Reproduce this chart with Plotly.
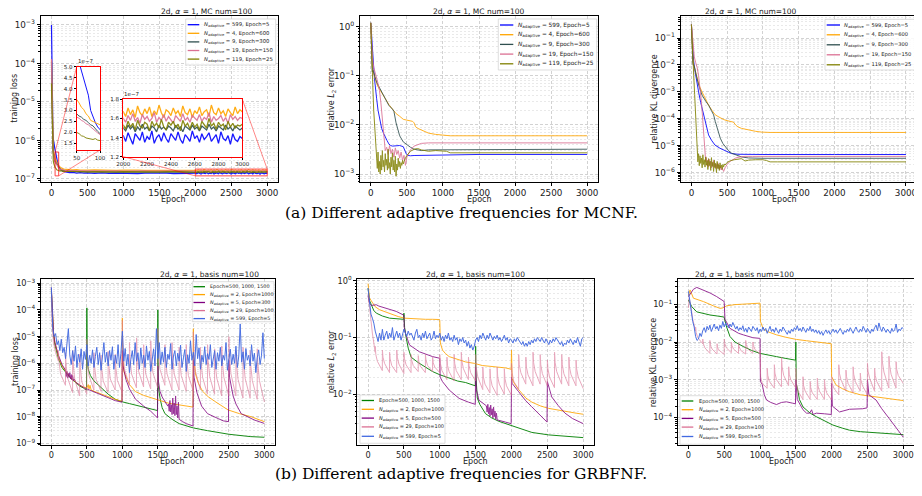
import math
import plotly.graph_objects as go

W, H = 922, 496          # browser window
OFF = 8                  # default page body margin
FW, FH = W - OFF, H - OFF  # figure size so that it exactly fills the window

# ======================= DATA =======================
EPOCH_TICKS = [0, 500, 1000, 1500, 2000, 2500, 3000]

# ---------- (a) MCNF : training loss ----------
mc_loss_epoch = [0, 4, 8, 12, 16, 20, 25, 30, 35, 40, 45, 50, 55, 60, 65, 70, 75, 80, 85, 90, 95, 100,
                 110, 120, 135, 150, 175, 200, 250, 300, 350, 400, 450, 500,
                 600, 700, 800, 900, 1000, 1100, 1200, 1300, 1400, 1500, 1600, 1700, 1800, 1900] + \
                list(range(2000, 3001, 20))

mc_loss_blue = [1.0e-3, 1.5e-4, 3.0e-5, 8.0e-6, 3.0e-6, 1.6e-6, 1.1e-6, 9.0e-7, 8.0e-7, 7.0e-7, 6.2e-7, 5.6e-7,
                5.2e-7, 4.8e-7, 4.45e-7, 4.1e-7, 3.7e-7, 3.0e-7, 2.7e-7, 2.45e-7, 2.25e-7, 2.1e-7,
                1.9e-7, 1.8e-7, 1.7e-7, 1.62e-7, 1.55e-7, 1.5e-7, 1.45e-7, 1.48e-7, 1.42e-7, 1.46e-7, 1.41e-7, 1.44e-7,
                1.40e-7, 1.43e-7, 1.39e-7, 1.42e-7, 1.40e-7, 1.44e-7, 1.38e-7, 1.41e-7, 1.43e-7, 1.39e-7, 1.42e-7, 1.37e-7, 1.41e-7, 1.40e-7,
                1.42e-7, 1.36e-7, 1.45e-7, 1.39e-7, 1.33e-7, 1.44e-7, 1.40e-7, 1.37e-7, 1.46e-7, 1.35e-7,
                1.41e-7, 1.38e-7, 1.47e-7, 1.34e-7, 1.40e-7, 1.43e-7, 1.36e-7, 1.45e-7, 1.39e-7, 1.35e-7,
                1.44e-7, 1.41e-7, 1.37e-7, 1.46e-7, 1.38e-7, 1.34e-7, 1.43e-7, 1.40e-7, 1.36e-7, 1.47e-7,
                1.39e-7, 1.42e-7, 1.35e-7, 1.44e-7, 1.38e-7, 1.41e-7, 1.45e-7, 1.36e-7, 1.40e-7, 1.43e-7,
                1.34e-7, 1.46e-7, 1.39e-7, 1.37e-7, 1.42e-7, 1.33e-7, 1.44e-7, 1.38e-7, 1.36e-7, 1.41e-7,
                1.39e-7]
mc_loss_orange = [1.2e-4, 3.0e-5, 8.0e-6, 3.0e-6, 1.5e-6, 9.0e-7, 6.0e-7, 5.0e-7, 4.4e-7, 4.0e-7, 3.7e-7, 3.5e-7,
                  3.35e-7, 3.15e-7, 3.05e-7, 2.85e-7, 2.75e-7, 2.55e-7, 2.5e-7, 2.42e-7, 2.3e-7, 2.22e-7,
                  2.1e-7, 2.0e-7, 1.92e-7, 1.85e-7, 1.8e-7, 1.76e-7, 1.74e-7, 1.72e-7, 1.75e-7, 1.7e-7, 1.73e-7, 1.69e-7,
                  1.72e-7, 1.68e-7, 1.71e-7, 1.67e-7, 1.70e-7, 1.66e-7, 1.69e-7, 1.67e-7, 1.70e-7, 1.66e-7, 1.68e-7, 1.65e-7, 1.69e-7, 1.66e-7,
                  1.67e-7, 1.62e-7, 1.71e-7, 1.64e-7, 1.69e-7, 1.61e-7, 1.73e-7, 1.66e-7, 1.63e-7, 1.70e-7,
                  1.65e-7, 1.72e-7, 1.62e-7, 1.68e-7, 1.64e-7, 1.74e-7, 1.66e-7, 1.61e-7, 1.69e-7, 1.67e-7,
                  1.63e-7, 1.71e-7, 1.65e-7, 1.68e-7, 1.62e-7, 1.73e-7, 1.66e-7, 1.64e-7, 1.70e-7, 1.61e-7,
                  1.68e-7, 1.65e-7, 1.72e-7, 1.63e-7, 1.67e-7, 1.69e-7, 1.62e-7, 1.74e-7, 1.66e-7, 1.64e-7,
                  1.71e-7, 1.65e-7, 1.68e-7, 1.62e-7, 1.70e-7, 1.66e-7, 1.63e-7, 1.72e-7, 1.65e-7, 1.69e-7,
                  1.67e-7]
mc_loss_slate = [1.1e-4, 2.0e-5, 5.0e-6, 2.0e-6, 1.0e-6, 6.5e-7, 4.8e-7, 4.0e-7, 3.5e-7, 3.2e-7, 3.0e-7, 2.85e-7,
                 2.75e-7, 2.7e-7, 2.6e-7, 2.55e-7, 2.45e-7, 2.35e-7, 2.3e-7, 2.15e-7, 2.05e-7, 1.95e-7,
                 1.85e-7, 1.8e-7, 1.72e-7, 1.68e-7, 1.63e-7, 1.6e-7, 1.57e-7, 1.55e-7, 1.56e-7, 1.53e-7, 1.55e-7, 1.52e-7,
                 1.53e-7, 1.51e-7, 1.52e-7, 1.50e-7, 1.52e-7, 1.49e-7, 1.51e-7, 1.50e-7, 1.52e-7, 1.49e-7, 1.51e-7, 1.50e-7, 1.49e-7, 1.51e-7,
                 1.50e-7, 1.47e-7, 1.53e-7, 1.49e-7, 1.52e-7, 1.46e-7, 1.51e-7, 1.48e-7, 1.54e-7, 1.49e-7,
                 1.51e-7, 1.47e-7, 1.52e-7, 1.50e-7, 1.46e-7, 1.53e-7, 1.49e-7, 1.51e-7, 1.48e-7, 1.52e-7,
                 1.50e-7, 1.47e-7, 1.53e-7, 1.49e-7, 1.51e-7, 1.46e-7, 1.52e-7, 1.50e-7, 1.48e-7, 1.53e-7,
                 1.49e-7, 1.51e-7, 1.47e-7, 1.52e-7, 1.50e-7, 1.48e-7, 1.54e-7, 1.49e-7, 1.51e-7, 1.47e-7,
                 1.52e-7, 1.50e-7, 1.48e-7, 1.53e-7, 1.49e-7, 1.51e-7, 1.47e-7, 1.52e-7, 1.50e-7, 1.48e-7,
                 1.50e-7]
mc_loss_pink = [1.3e-4, 2.5e-5, 6.0e-6, 2.2e-6, 1.1e-6, 7.0e-7, 5.0e-7, 4.1e-7, 3.6e-7, 3.2e-7, 2.9e-7, 2.7e-7,
                2.65e-7, 2.55e-7, 2.5e-7, 2.4e-7, 2.35e-7, 2.25e-7, 2.15e-7, 2.05e-7, 1.98e-7, 1.9e-7,
                1.84e-7, 1.8e-7, 1.75e-7, 1.72e-7, 1.68e-7, 1.66e-7, 1.64e-7, 1.65e-7, 1.62e-7, 1.63e-7, 1.61e-7, 1.62e-7,
                1.60e-7, 1.62e-7, 1.59e-7, 1.61e-7, 1.60e-7, 1.62e-7, 1.59e-7, 1.61e-7, 1.60e-7, 1.62e-7, 1.59e-7, 1.60e-7, 1.61e-7, 1.60e-7,
                1.60e-7, 1.56e-7, 1.63e-7, 1.58e-7, 1.65e-7, 1.57e-7, 1.61e-7, 1.55e-7, 1.64e-7, 1.59e-7,
                1.62e-7, 1.57e-7, 1.60e-7, 1.66e-7, 1.56e-7, 1.61e-7, 1.58e-7, 1.64e-7, 1.57e-7, 1.62e-7,
                1.59e-7, 1.55e-7, 1.63e-7, 1.60e-7, 1.57e-7, 1.65e-7, 1.58e-7, 1.61e-7, 1.56e-7, 1.63e-7,
                1.60e-7, 1.58e-7, 1.64e-7, 1.57e-7, 1.61e-7, 1.59e-7, 1.66e-7, 1.56e-7, 1.62e-7, 1.58e-7,
                1.60e-7, 1.63e-7, 1.57e-7, 1.61e-7, 1.55e-7, 1.64e-7, 1.59e-7, 1.62e-7, 1.58e-7, 1.61e-7,
                1.60e-7]
mc_loss_olive = [3.0e-5, 1.0e-5, 3.0e-6, 1.2e-6, 6.0e-7, 4.0e-7, 3.0e-7, 2.6e-7, 2.3e-7, 2.15e-7, 2.05e-7, 2.0e-7,
                 1.95e-7, 1.85e-7, 1.82e-7, 1.75e-7, 1.72e-7, 1.7e-7, 1.68e-7, 1.72e-7, 1.65e-7, 1.63e-7,
                 1.62e-7, 1.6e-7, 1.65e-7, 1.58e-7, 1.6e-7, 1.56e-7, 1.58e-7, 1.55e-7, 1.57e-7, 1.54e-7, 1.56e-7, 1.53e-7,
                 1.55e-7, 1.53e-7, 1.56e-7, 1.52e-7, 1.54e-7, 1.53e-7, 1.55e-7, 1.52e-7, 1.54e-7, 1.53e-7, 1.55e-7, 1.52e-7, 1.54e-7, 1.53e-7,
                 1.53e-7, 1.49e-7, 1.57e-7, 1.51e-7, 1.55e-7, 1.48e-7, 1.58e-7, 1.52e-7, 1.50e-7, 1.56e-7,
                 1.54e-7, 1.47e-7, 1.57e-7, 1.52e-7, 1.55e-7, 1.50e-7, 1.59e-7, 1.51e-7, 1.48e-7, 1.56e-7,
                 1.53e-7, 1.57e-7, 1.50e-7, 1.54e-7, 1.47e-7, 1.58e-7, 1.52e-7, 1.55e-7, 1.49e-7, 1.56e-7,
                 1.51e-7, 1.54e-7, 1.48e-7, 1.57e-7, 1.53e-7, 1.50e-7, 1.60e-7, 1.52e-7, 1.55e-7, 1.49e-7,
                 1.56e-7, 1.52e-7, 1.54e-7, 1.48e-7, 1.57e-7, 1.51e-7, 1.55e-7, 1.50e-7, 1.53e-7, 1.52e-7,
                 1.54e-7]

# inset windows (data ranges shown by the two zoom boxes)
inset_a_epochs = [50, 100]
inset_a_loss = [1.2e-7, 5.0e-7]
inset_a_ticks = [1.5e-7, 2.0e-7, 2.5e-7, 3.0e-7, 3.5e-7, 4.0e-7, 4.5e-7, 5.0e-7]
inset_a_ticktext = ["1.5", "2.0", "2.5", "3.0", "3.5", "4.0", "4.5", "5.0"]
inset_b_epochs = [2000, 3000]
inset_b_loss = [1.2e-7, 1.8e-7]
inset_b_xticks = [2000, 2200, 2400, 2600, 2800, 3000]
inset_b_ticks = [1.2e-7, 1.4e-7, 1.6e-7, 1.8e-7]
inset_b_ticktext = ["1.2", "1.4", "1.6", "1.8"]

# ---------- (a) MCNF : relative L2 error ----------
mc_l2_blue_epoch = [0, 10, 20, 30, 40, 50, 60, 80, 100, 125, 150, 175, 200, 225, 250, 275, 300, 350, 400, 450,
                    470, 490, 510, 550, 600, 800, 1000, 1500, 2000, 2500, 3000]
mc_l2_blue = [1.2, 0.6, 0.35, 0.25, 0.15, 0.09, 0.06, 0.035, 0.02, 0.012, 0.0085, 0.0068, 0.0055, 0.0048, 0.0041,
              0.0038, 0.0037, 0.0037, 0.0038, 0.0036, 0.0030, 0.0026, 0.0024, 0.00235, 0.00238, 0.0024, 0.0025,
              0.0025, 0.0025, 0.0025, 0.0025]
mc_l2_orange_epoch = [0, 10, 20, 40, 60, 80, 100, 150, 200, 250, 300, 350, 400, 450, 500, 550, 580, 600, 620, 650,
                      700, 750, 800, 900, 1000, 1100, 1500, 2000, 2500, 3000]
mc_l2_orange = [1.2, 0.25, 0.15, 0.11, 0.085, 0.07, 0.06, 0.045, 0.033, 0.026, 0.021, 0.017, 0.015, 0.013, 0.0125,
                0.012, 0.0118, 0.011, 0.0092, 0.0085, 0.0078, 0.0072, 0.0068, 0.0064, 0.0061, 0.006, 0.006, 0.006,
                0.006, 0.006]
mc_l2_slate_epoch = [0, 10, 20, 30, 50, 80, 100, 150, 200, 250, 300, 320, 350, 400, 450, 500, 550, 600, 700, 800,
                     1000, 1500, 2000, 2500, 3000]
mc_l2_slate = [1.2, 0.3, 0.12, 0.13, 0.1, 0.075, 0.065, 0.047, 0.034, 0.025, 0.021, 0.019, 0.011, 0.006, 0.0045,
               0.0039, 0.0035, 0.0032, 0.003, 0.0031, 0.0031, 0.0032, 0.0032, 0.0032, 0.0032]
mc_l2_pink_epoch = [0, 10, 20, 40, 60, 80, 100, 120, 140, 160, 180, 200, 220, 240, 260, 280, 300, 320, 340, 360,
                    380, 400, 420, 440, 460, 480, 500, 550, 600, 650, 700, 800, 1000, 1500, 2000, 2500, 3000]
mc_l2_pink = [1.2, 0.5, 0.25, 0.15, 0.11, 0.09, 0.07, 0.05, 0.028, 0.012, 0.005, 0.003, 0.0035, 0.0025, 0.0038,
              0.0026, 0.0032, 0.0022, 0.0034, 0.0025, 0.003, 0.0021, 0.0028, 0.0019, 0.0024, 0.0015, 0.0022, 0.0031,
              0.0037, 0.004, 0.0042, 0.0043, 0.0043, 0.0043, 0.0043, 0.0043, 0.0043]
mc_l2_olive_epoch = [0, 10, 20, 30, 40, 50, 60, 70] + list(range(80, 481, 10)) + \
                    [500, 550, 600, 650, 700, 800, 900, 1000, 1050, 1100, 1150, 1500, 2000, 2500, 3000]
mc_l2_olive = [1.2, 0.3, 0.12, 0.05, 0.02, 0.012, 0.006, 0.003,
               0.0021, 0.0013, 0.0028, 0.0011, 0.0018, 0.0010, 0.0024, 0.0012, 0.0030, 0.0014,
               0.0019, 0.0011, 0.0026, 0.0015, 0.0020, 0.0012, 0.0032, 0.0013, 0.0017, 0.0010,
               0.0022, 0.0014, 0.0027, 0.0012, 0.0019, 0.0011, 0.0023, 0.0009, 0.0016, 0.0012,
               0.0021, 0.0014, 0.0018, 0.0013, 0.0017, 0.0015, 0.0019, 0.0016, 0.0018, 0.0020, 0.0021,
               0.0024, 0.0029, 0.0032, 0.0033, 0.0031, 0.0029, 0.0030, 0.0030, 0.0029, 0.0027, 0.0027,
               0.0027, 0.0027, 0.0027, 0.0027]

# ---------- (a) MCNF : relative KL divergence ----------
mc_kl_blue_epoch = [0, 15, 30, 50, 75, 100, 130, 170, 200, 240, 280, 330, 400, 470, 560, 650, 800, 1000, 2000, 3000]
mc_kl_blue = [0.32, 0.06, 0.015, 0.006, 0.0022, 0.001, 0.0004, 0.00014, 6e-5, 2.5e-5, 1.6e-5, 1.05e-5, 8e-6,
              6.5e-6, 5.1e-6, 4.8e-6, 4.7e-6, 4.7e-6, 4.7e-6, 4.7e-6]
mc_kl_orange_epoch = [0, 10, 20, 40, 55, 80, 110, 148, 200, 240, 290, 333, 400, 471, 540, 587, 620, 650, 700, 795,
                      900, 980, 1100, 2000, 3000]
mc_kl_orange = [0.32, 0.04, 0.015, 0.008, 0.0056, 0.003, 0.0017, 0.001, 0.0005, 0.00032, 0.0002, 0.00014, 0.00011,
                8.9e-5, 8e-5, 7.5e-5, 5.8e-5, 5e-5, 4.4e-5, 3.8e-5, 3.4e-5, 3.2e-5, 3.1e-5, 3.1e-5, 3.1e-5]
mc_kl_slate_epoch = [0, 10, 20, 40, 55, 80, 110, 148, 200, 240, 280, 310, 333, 370, 403, 440, 471, 520, 564, 640,
                     702, 800, 1000, 2000, 3000]
mc_kl_slate = [0.32, 0.05, 0.011, 0.009, 0.0056, 0.003, 0.0015, 0.00076, 0.00045, 0.00032, 0.0002, 0.00014, 8e-5,
               3.5e-5, 1.9e-5, 1.2e-5, 9.3e-6, 6.5e-6, 5.2e-6, 4.3e-6, 3.8e-6, 3.5e-6, 3.4e-6, 3.4e-6, 3.4e-6]
mc_kl_pink_epoch = [0, 20, 40, 60, 80, 100, 120, 140, 160, 180, 195] + list(range(200, 451, 10)) + \
                   [470, 500, 540, 580, 620, 680, 750, 850, 1000, 2000, 3000]
mc_kl_pink = [0.32, 0.05, 0.02, 0.012, 0.008, 0.004, 0.0015, 0.0004, 8e-5, 2e-5, 7e-6,
              2.5e-6, 3.6e-6, 1.8e-6, 2.9e-6, 1.6e-6, 3.1e-6, 2.0e-6, 2.7e-6, 1.5e-6, 2.4e-6,
              1.7e-6, 2.8e-6, 1.6e-6, 2.2e-6, 1.4e-6, 2.0e-6, 1.5e-6, 2.3e-6, 1.4e-6, 1.9e-6,
              1.3e-6, 1.7e-6, 1.25e-6, 1.5e-6, 1.2e-6, 1.1e-6,
              1.5e-6, 2.0e-6, 2.6e-6, 3.1e-6, 3.5e-6, 3.8e-6, 4.0e-6, 4.0e-6, 4.0e-6, 4.0e-6, 4.0e-6]
mc_kl_olive_epoch = [0, 10, 20, 32, 45, 55, 69, 78] + list(range(90, 471, 10)) + \
                    [500, 550, 600, 650, 700, 750, 800, 900, 1000, 1050, 1100, 1200, 2000, 3000]
mc_kl_olive = [0.32, 0.05, 0.012, 0.004, 0.0008, 0.0002, 6e-5, 6e-6,
               2.5e-6, 5.0e-6, 1.8e-6, 4.2e-6, 2.2e-6, 3.5e-6, 1.5e-6, 4.6e-6, 2.0e-6, 3.0e-6,
               1.6e-6, 3.8e-6, 1.9e-6, 2.8e-6, 1.3e-6, 3.3e-6, 1.8e-6, 2.6e-6, 1.2e-6, 3.6e-6,
               1.7e-6, 2.4e-6, 1.1e-6, 2.9e-6, 1.5e-6, 2.2e-6, 1.0e-6, 2.6e-6, 1.4e-6, 2.0e-6,
               1.2e-6, 2.3e-6, 1.5e-6, 1.9e-6, 1.3e-6, 2.0e-6, 1.6e-6, 2.1e-6, 1.9e-6,
               2.4e-6, 2.8e-6, 3.0e-6, 3.2e-6, 3.3e-6, 2.7e-6, 2.9e-6, 3.0e-6, 3.0e-6, 2.8e-6, 2.5e-6,
               2.5e-6, 2.5e-6, 2.5e-6]

# ---------- (b) GRBFNF : shared epochs ----------
rb_dense_epoch = list(range(0, 3001, 20))
rb_pink_epoch = [0, 10, 30, 60, 99,
                 100, 108, 130, 199, 200, 208, 230, 299, 300, 308, 330, 399, 400, 408, 430, 499,
                 500, 508, 530, 599, 600, 608, 630, 699, 700, 708, 730, 799, 800, 808, 830, 899,
                 900, 908, 930, 999, 1000, 1008, 1030, 1099, 1100, 1108, 1130, 1199, 1200, 1208, 1230, 1299,
                 1300, 1308, 1330, 1399, 1400, 1408, 1430, 1499, 1500, 1508, 1530, 1599, 1600, 1608, 1630, 1699,
                 1700, 1708, 1730, 1799, 1800, 1808, 1830, 1899, 1900, 1908, 1930, 1999, 2000, 2008, 2030, 2099,
                 2100, 2108, 2130, 2199, 2200, 2208, 2230, 2299, 2300, 2308, 2330, 2399, 2400, 2408, 2430, 2499,
                 2500, 2508, 2530, 2599, 2600, 2608, 2630, 2699, 2700, 2708, 2730, 2799, 2800, 2808, 2830, 2899,
                 2900, 2908, 2930, 3000]

# ---------- (b) GRBFNF : training loss ----------
rb_loss_green_epoch = [0, 10, 20, 30, 50, 75, 100, 150, 200, 250, 300, 350, 400, 450, 495, 500, 505, 520, 550, 600,
                       700, 800, 900, 1000, 1100, 1200, 1300, 1400, 1495, 1500, 1505, 1530, 1560, 1600, 1700, 1800,
                       2000, 2200, 2500, 2800, 3000]
rb_loss_green = [5e-4, 8e-5, 2.5e-5, 1.2e-5, 5e-6, 2.5e-6, 1.5e-6, 7e-7, 4.5e-7, 3.2e-7, 2.4e-7, 1.8e-7, 1.4e-7,
                 1.2e-7, 1.0e-7, 1.2e-4, 1.2e-6, 6e-7, 3.5e-7, 2.2e-7, 1.2e-7, 7e-8, 4.5e-8, 3.6e-8, 3.1e-8, 2.7e-8,
                 2.3e-8, 2.0e-8, 1.7e-8, 1e-4, 1.5e-7, 5e-8, 2.2e-8, 1.3e-8, 8e-9, 5.5e-9, 3.8e-9, 3e-9, 2.2e-9,
                 1.8e-9, 1.7e-9]
rb_loss_orange_epoch = [0, 10, 20, 30, 50, 75, 100, 150, 200, 250, 300, 350, 400, 450, 500, 520, 530, 545, 560, 600,
                        700, 800, 900, 995, 1000, 1005, 1020, 1050, 1070, 1100, 1186, 1300, 1418, 1550, 1651, 1800,
                        1995, 2000, 2005, 2030, 2070, 2130, 2209, 2300, 2488, 2650, 2813, 3000]
rb_loss_orange = [6e-4, 1e-4, 3e-5, 1.5e-5, 6e-6, 3e-6, 1.8e-6, 8e-7, 5e-7, 3.4e-7, 2.5e-7, 1.9e-7, 1.5e-7, 1.3e-7,
                  1.2e-7, 1.6e-7, 1.1e-7, 1.5e-7, 1.0e-7, 9e-8, 7e-8, 5.5e-8, 4.5e-8, 3.8e-8, 5e-5, 2e-6, 5e-7,
                  3e-7, 2.4e-7, 1.6e-7, 8.7e-8, 6.3e-8, 4.9e-8, 3.9e-8, 3.2e-8, 2.7e-8, 2.3e-8, 2e-5, 1.5e-6, 4e-7,
                  1.8e-7, 9e-8, 5.6e-8, 3.8e-8, 1.8e-8, 1.3e-8, 1e-8, 6.5e-9]
rb_loss_purple_epoch = [0, 10, 20, 30, 50, 75, 100, 150, 200] + list(range(210, 321, 10)) + \
                       [350, 400, 450, 500, 600, 700, 800, 900, 995, 1000, 1010, 1025, 1050, 1100, 1186, 1300, 1400,
                        1495, 1500, 1510, 1530, 1560, 1600, 1640] + list(range(1650, 1801, 10)) + \
                       [1850, 1900, 1995, 2000, 2010, 2030, 2050, 2116, 2200, 2350, 2420, 2495, 2500, 2510, 2530,
                        2560, 2600, 2674, 2860, 3000]
rb_loss_purple = [7e-4, 1.2e-4, 3.5e-5, 1.5e-5, 6e-6, 3e-6, 2e-6, 9e-7, 5.5e-7,
                  3.2e-7, 5e-7, 2.8e-7, 4.2e-7, 3e-7, 4.5e-7, 2.6e-7, 3.8e-7, 2.4e-7, 3.5e-7, 2.2e-7, 2.6e-7,
                  1.9e-7, 1.5e-7, 1.25e-7, 1.1e-7, 8.5e-8, 6.5e-8, 5e-8, 4e-8, 3.5e-8, 3e-6, 8e-7, 5e-7, 2.5e-7,
                  1.1e-7, 4.5e-8, 2.5e-8, 1.6e-8, 9e-9, 8e-7, 2e-7, 9e-8, 5.5e-8, 3.5e-8, 2.5e-8,
                  3e-8, 1.6e-8, 4e-8, 1.5e-8, 2.8e-8, 1.2e-8, 5e-8, 1.3e-8, 3.2e-8, 1.1e-8, 6e-8, 1.2e-8, 2.5e-8,
                  9e-9, 3.5e-8, 8e-9,
                  6.5e-9, 5.5e-9, 4.5e-9, 1.3e-6, 3e-7, 1.5e-7, 8e-8, 2.5e-8, 1.3e-8, 8.5e-9, 7e-9, 6.5e-9, 1.3e-6,
                  3e-7, 1.5e-7, 6e-8, 3e-8, 1.3e-8, 7.5e-9, 5.6e-9]
rb_loss_pink = [3e-4, 3e-5, 6e-6, 2.5e-6, 1.2e-6,
                3e-6, 1.2e-6, 4e-7, 1.5e-7, 2.5e-6, 8e-7, 2.8e-7, 8e-8, 3e-6, 9e-7, 2.5e-7, 6e-8,
                2.2e-6, 7e-7, 2e-7, 7e-8, 8e-6, 1.5e-6, 3.5e-7, 1e-7, 2.5e-6, 8e-7, 2.5e-7, 9e-8,
                2e-6, 7e-7, 2.2e-7, 8e-8, 2.8e-6, 9e-7, 2.6e-7, 1e-7, 2.2e-6, 7e-7, 2.3e-7, 8e-8,
                4e-5, 3e-6, 6e-7, 1.5e-7, 6e-6, 1.5e-6, 4e-7, 1.2e-7, 9e-6, 2e-6, 5e-7, 1.3e-7,
                5e-6, 1.3e-6, 4e-7, 1.1e-7, 7e-6, 1.8e-6, 4.5e-7, 1.2e-7, 2e-5, 3e-6, 6e-7, 1.5e-7,
                5e-6, 1.4e-6, 4e-7, 1e-7, 6e-6, 1.5e-6, 4e-7, 1e-7, 4e-6, 1.2e-6, 3.5e-7, 9e-8,
                5e-6, 1.3e-6, 3.5e-7, 9e-8, 1.5e-5, 2.5e-6, 5e-7, 1e-7, 4e-6, 1.1e-6, 3e-7, 7e-8,
                5e-6, 1.3e-6, 3.2e-7, 7e-8, 3.5e-6, 1e-6, 2.8e-7, 6e-8, 4.5e-6, 1.2e-6, 3e-7, 6e-8,
                1e-5, 2e-6, 4e-7, 6e-8, 3e-6, 9e-7, 2.5e-7, 5e-8, 4e-6, 1.1e-6, 2.7e-7, 5e-8,
                3e-6, 9e-7, 2.3e-7, 4.5e-8, 3.5e-6, 1e-6, 2.3e-7, 3.6e-8]
rb_loss_blue = [7e-4, 2e-5, 1e-5, 1.3e-5, 5e-6, 7e-6, 3e-6, 8e-6, 2.5e-6, 4e-6,
                1.5e-6, 6e-6, 2e-5, 2e-6, 9e-7, 3e-6, 1.2e-6, 4.5e-6, 7e-7, 2.2e-6,
                1.1e-6, 3.5e-6, 6e-7, 2.8e-6, 1.4e-6, 5e-6, 8e-7, 2e-6, 1e-6, 3.2e-6,
                7e-7, 1.8e-6, 4e-6, 9e-7, 2.5e-6, 5.5e-7, 1.5e-6, 6e-6, 1.1e-6, 2.6e-6,
                8e-7, 3e-6, 1.3e-6, 4.2e-6, 6e-7, 2e-6, 1e-6, 5e-6, 7e-7, 2.4e-6,
                1.6e-5, 1.2e-6, 3.6e-6, 8e-7, 2.2e-6, 4.5e-7, 1.4e-6, 3e-6, 9e-7, 6e-6,
                1.2e-6, 2.5e-6, 6e-7, 3.8e-6, 1e-6, 2e-6, 7e-7, 4.5e-6, 1.3e-6, 2.8e-6,
                5e-7, 1.7e-6, 3.5e-6, 8e-7, 2e-5, 1.5e-6, 6e-6, 9e-7, 2.7e-6, 1.1e-6,
                4e-6, 7e-7, 2.2e-6, 1.4e-6, 5.5e-6, 6e-7, 1.9e-6, 3e-6, 8e-7, 2.4e-6,
                1.2e-6, 4.8e-6, 7e-7, 1.6e-6, 3.3e-6, 5e-7, 2.1e-6, 1e-6, 7e-6, 1.3e-6,
                2.6e-6, 8e-7, 1.2e-5, 1.5e-6, 3.8e-6, 6e-7, 2e-6, 1.1e-6, 4.2e-6, 9e-7,
                2.3e-6, 1.4e-6, 5e-6, 7e-7, 1.8e-6, 3e-6, 6e-7, 2.5e-6, 1.2e-6, 4e-6,
                8e-7, 2e-6, 1.3e-6, 6e-6, 5.5e-7, 1.7e-6, 3.4e-6, 9e-7, 2.2e-6, 1e-6,
                4.4e-6, 7e-7, 1.9e-6, 3e-5, 1.1e-6, 2.7e-6, 6e-7, 3.6e-6, 1.3e-6, 2e-6,
                8e-7, 5e-6, 1.2e-6, 2.4e-6, 4.5e-7, 1.6e-6, 3.2e-6, 9e-7, 2e-6, 1.4e-5,
                1.5e-6]

# ---------- (b) GRBFNF : relative L2 error ----------
rb_l2_green_epoch = [0, 20, 46, 80, 115, 200, 300, 400, 495, 500, 510, 531, 560, 600, 700, 800, 900, 1000, 1131,
                     1250, 1361, 1495, 1500, 1505, 1523, 1560, 1638, 1723, 1823, 1950, 2054, 2200, 2284, 2515, 2750,
                     3000]
rb_l2_green = [0.74, 0.45, 0.38, 0.3, 0.27, 0.24, 0.22, 0.215, 0.21, 0.27, 0.15, 0.1, 0.065, 0.045, 0.036, 0.03,
               0.025, 0.022, 0.019, 0.017, 0.016, 0.014, 0.07, 0.02, 0.0085, 0.0065, 0.0045, 0.0038, 0.0033, 0.0029,
               0.0026, 0.0023, 0.0021, 0.0019, 0.0018, 0.0017]
rb_l2_orange_epoch = [0, 20, 69, 100, 161, 250, 346, 420, 508, 600, 700, 800, 900, 995, 1000, 1008, 1038, 1080,
                      1131, 1250, 1361, 1480, 1592, 1700, 1823, 1920, 1995, 2000, 2008, 2030, 2100, 2200, 2284, 2400,
                      2515, 2650, 2746, 2900, 3000]
rb_l2_orange = [0.9, 0.5, 0.4, 0.35, 0.31, 0.28, 0.25, 0.235, 0.22, 0.215, 0.212, 0.21, 0.21, 0.208, 0.2, 0.08,
                0.06, 0.052, 0.046, 0.041, 0.037, 0.035, 0.032, 0.031, 0.03, 0.029, 0.0275, 0.06, 0.019, 0.016,
                0.012, 0.0085, 0.0072, 0.0062, 0.0056, 0.0052, 0.0049, 0.0046, 0.0044]
rb_l2_purple_epoch = [0, 20, 50, 115, 150, 254, 392, 494, 500, 505, 521, 577, 715, 900, 995, 1000, 1005, 1038, 1131,
                      1269, 1400, 1477, 1495, 1500, 1510, 1546, 1600] + list(range(1650, 1801, 10)) + \
                     [1850, 1915, 1995, 2000, 2008, 2100, 2192, 2280, 2377, 2440, 2495, 2500, 2530, 2561, 2650,
                      2746, 2850, 3000]
rb_l2_purple = [0.55, 0.4, 0.37, 0.38, 0.36, 0.33, 0.29, 0.25, 0.25, 0.15, 0.12, 0.074, 0.056, 0.046, 0.043, 0.043,
                0.02, 0.0166, 0.0118, 0.0084, 0.0072, 0.0068, 0.0066, 0.03, 0.012, 0.0078, 0.0068,
                0.0062, 0.0048, 0.0066, 0.0045, 0.0058, 0.0041, 0.0064, 0.0043, 0.0055, 0.0038, 0.0059, 0.0040,
                0.0050, 0.0036, 0.0046, 0.0035,
                0.0034, 0.0032, 0.003, 0.02, 0.0155, 0.011, 0.0078, 0.006, 0.0046, 0.0038, 0.0032, 0.0166, 0.012,
                0.0089, 0.0063, 0.0046, 0.0037, 0.003]
rb_l2_pink = [0.6, 0.45, 0.28, 0.12, 0.055,
              0.07, 0.05, 0.038, 0.026, 0.06, 0.045, 0.035, 0.024, 0.055, 0.042, 0.032, 0.024,
              0.06, 0.045, 0.034, 0.023, 0.055, 0.042, 0.033, 0.024, 0.05, 0.04, 0.032, 0.025,
              0.048, 0.038, 0.031, 0.024, 0.05, 0.04, 0.032, 0.025, 0.045, 0.036, 0.03, 0.024,
              0.05, 0.035, 0.026, 0.018, 0.045, 0.032, 0.025, 0.017, 0.05, 0.035, 0.026, 0.018,
              0.055, 0.038, 0.028, 0.018, 0.045, 0.032, 0.024, 0.017, 0.05, 0.03, 0.02, 0.012,
              0.03, 0.02, 0.015, 0.0105, 0.028, 0.019, 0.014, 0.0095, 0.03, 0.02, 0.015, 0.01,
              0.028, 0.019, 0.014, 0.0095, 0.035, 0.024, 0.017, 0.012, 0.05, 0.033, 0.024, 0.015,
              0.045, 0.03, 0.022, 0.014, 0.055, 0.036, 0.025, 0.015, 0.05, 0.033, 0.023, 0.014,
              0.04, 0.028, 0.02, 0.013, 0.055, 0.036, 0.025, 0.015, 0.05, 0.033, 0.023, 0.014,
              0.045, 0.03, 0.022, 0.014, 0.04, 0.028, 0.02, 0.0125]
rb_l2_blue = [0.75, 0.45, 0.26, 0.22, 0.18, 0.13, 0.1, 0.085, 0.12, 0.09,
              0.14, 0.09, 0.11, 0.13, 0.095, 0.12, 0.1, 0.15, 0.09, 0.11,
              0.13, 0.1, 0.12, 0.09, 0.11, 0.14, 0.12, 0.105, 0.13, 0.11,
              0.12, 0.1, 0.09, 0.12, 0.14, 0.1, 0.11, 0.09, 0.12, 0.1,
              0.13, 0.095, 0.11, 0.12, 0.09, 0.1, 0.13, 0.095, 0.11, 0.1,
              0.12, 0.09, 0.105, 0.085, 0.11, 0.095, 0.12, 0.09, 0.1, 0.085,
              0.11, 0.09, 0.1, 0.075, 0.095, 0.085, 0.1, 0.08, 0.09, 0.07,
              0.085, 0.065, 0.075, 0.06, 0.07, 0.09, 0.1, 0.085, 0.11, 0.095,
              0.12, 0.1, 0.09, 0.11, 0.095, 0.12, 0.1, 0.09, 0.105, 0.095,
              0.11, 0.09, 0.1, 0.085, 0.095, 0.11, 0.09, 0.1, 0.08, 0.095,
              0.09, 0.08, 0.095, 0.085, 0.1, 0.09, 0.08, 0.075, 0.085, 0.07,
              0.08, 0.07, 0.085, 0.075, 0.09, 0.08, 0.095, 0.085, 0.1, 0.09,
              0.085, 0.1, 0.09, 0.08, 0.095, 0.085, 0.075, 0.09, 0.08, 0.095,
              0.085, 0.1, 0.09, 0.08, 0.075, 0.085, 0.07, 0.08, 0.075, 0.09,
              0.08, 0.095, 0.085, 0.075, 0.09, 0.08, 0.1, 0.085, 0.07, 0.095,
              0.1]

# ---------- (b) GRBFNF : relative KL divergence ----------
rb_kl_green_epoch = [0, 46, 116, 200, 301, 400, 487, 495, 500, 533, 580, 650, 765, 880, 997, 1100, 1229, 1350, 1495,
                     1500, 1505, 1530, 1550, 1600, 1700, 1785, 1900, 2017, 2150, 2249, 2400, 2620, 2800, 3000]
rb_kl_green = [0.13, 0.087, 0.063, 0.057, 0.052, 0.049, 0.047, 0.046, 0.044, 0.025, 0.014, 0.01, 0.0076, 0.006,
               0.005, 0.0045, 0.0041, 0.0037, 0.0033, 0.01, 0.0008, 0.0005, 0.0003, 0.00019, 0.00013, 0.000105,
               8e-5, 6.3e-5, 5.2e-5, 4.6e-5, 4.2e-5, 3.9e-5, 3.7e-5, 3.5e-5]
rb_kl_orange_epoch = [0, 23, 70, 209, 348, 440, 480, 533, 650, 765, 900, 995, 1000, 1005, 1043, 1100, 1229, 1350,
                      1507, 1650, 1785, 1900, 1994, 2000, 2063, 2150, 2249, 2400, 2620, 2800, 3000]
rb_kl_orange = [0.17, 0.24, 0.145, 0.118, 0.091, 0.078, 0.08, 0.091, 0.098, 0.102, 0.105, 0.107, 0.107, 0.035,
                0.023, 0.019, 0.0155, 0.0135, 0.0117, 0.0108, 0.0102, 0.0095, 0.009, 0.0012, 0.00072, 0.00058,
                0.00048, 0.0004, 0.00035, 0.00031, 0.00028]
rb_kl_purple_epoch = [0, 30, 70, 116, 209, 300, 394, 450, 495, 500, 510, 580, 700, 765, 900, 995, 1000, 1005, 1030,
                      1060, 1090, 1150, 1229, 1300, 1368, 1450, 1495, 1500, 1520, 1600, 1650, 1692, 1720, 1740, 1785,
                      1900, 1995, 2000, 2010, 2110, 2249, 2434, 2495, 2500, 2520, 2620, 2700, 2805, 2900, 3000]
rb_kl_purple = [0.16, 0.2, 0.25, 0.28, 0.24, 0.2, 0.16, 0.135, 0.12, 0.11, 0.04, 0.023, 0.017, 0.0155, 0.013,
                0.0125, 0.0125, 0.0009, 0.00075, 0.0004, 0.00029, 0.00025, 0.00022, 0.00025, 0.00026, 0.00024,
                0.00023, 0.001, 0.0003, 0.00016, 0.00013, 0.00013, 0.00016, 0.00012, 0.00013, 0.000125, 0.00012,
                0.0008, 0.0002, 0.00014, 0.000165, 0.00017, 0.00018, 0.001, 0.0004, 0.00029, 0.00017, 9.3e-5,
                5.2e-5, 3e-5]
rb_kl_pink = [0.08, 0.15, 0.1, 0.04, 0.02,
              0.025, 0.018, 0.013, 0.009, 0.012, 0.009, 0.007, 0.005, 0.011, 0.008, 0.0065, 0.0048,
              0.009, 0.007, 0.006, 0.0047, 0.012, 0.009, 0.007, 0.0052, 0.01, 0.008, 0.0065, 0.005,
              0.0095, 0.0075, 0.006, 0.0048, 0.011, 0.0085, 0.0065, 0.005, 0.01, 0.008, 0.0063, 0.0048,
              0.006, 0.0012, 0.0008, 0.0006, 0.002, 0.0013, 0.0009, 0.0006, 0.0025, 0.0015, 0.001, 0.00065,
              0.004, 0.0022, 0.0013, 0.0007, 0.0022, 0.0014, 0.001, 0.0006, 0.002, 0.0008, 0.0005, 0.0003,
              0.0012, 0.0007, 0.0005, 0.0003, 0.0009, 0.0006, 0.00045, 0.0003, 0.0011, 0.0007, 0.0005, 0.0003,
              0.001, 0.00065, 0.00045, 0.00029, 0.0012, 0.0008, 0.0006, 0.0004, 0.0025, 0.0015, 0.001, 0.0005,
              0.0018, 0.0012, 0.0008, 0.00045, 0.0022, 0.0014, 0.0009, 0.0005, 0.0015, 0.001, 0.0007, 0.0004,
              0.0028, 0.0017, 0.0011, 0.0005, 0.002, 0.0013, 0.0009, 0.0005, 0.0055, 0.003, 0.0016, 0.0006,
              0.0042, 0.0025, 0.0014, 0.0006, 0.003, 0.0019, 0.0013, 0.0008]
rb_kl_blue = [0.22, 0.12, 0.05, 0.035, 0.025, 0.014, 0.011, 0.012, 0.017, 0.014,
              0.02, 0.024, 0.018, 0.026, 0.021, 0.028, 0.019, 0.024, 0.03, 0.022,
              0.026, 0.02, 0.028, 0.023, 0.035, 0.025, 0.032, 0.027, 0.024, 0.03,
              0.025, 0.033, 0.028, 0.022, 0.026, 0.02, 0.024, 0.021, 0.027, 0.019,
              0.023, 0.018, 0.025, 0.021, 0.019, 0.026, 0.022, 0.02, 0.024, 0.017,
              0.022, 0.019, 0.025, 0.02, 0.023, 0.017, 0.021, 0.026, 0.019, 0.022,
              0.018, 0.024, 0.02, 0.017, 0.022, 0.019, 0.025, 0.021, 0.018, 0.016,
              0.02, 0.017, 0.022, 0.019, 0.024, 0.021, 0.027, 0.02, 0.023, 0.019,
              0.025, 0.021, 0.018, 0.023, 0.02, 0.026, 0.019, 0.022, 0.018, 0.021,
              0.017, 0.02, 0.016, 0.019, 0.015, 0.018, 0.021, 0.017, 0.02, 0.016,
              0.019, 0.022, 0.018, 0.021, 0.017, 0.02, 0.023, 0.019, 0.016, 0.02,
              0.018, 0.022, 0.019, 0.024, 0.02, 0.017, 0.021, 0.025, 0.02, 0.018,
              0.022, 0.019, 0.026, 0.021, 0.018, 0.023, 0.02, 0.017, 0.022, 0.019,
              0.024, 0.028, 0.02, 0.032, 0.023, 0.019, 0.025, 0.021, 0.018, 0.022,
              0.02, 0.017, 0.023, 0.019, 0.021, 0.03, 0.018, 0.022, 0.02, 0.024,
              0.023]

# labels
MC_TITLE = "2d, <i>α</i> = 1, MC num=100"
RB_TITLE = "2d, <i>α</i> = 1, basis num=100"
NAD = "<i>N</i><sub>adaptive</sub>"
mc_labels = [NAD + " = 599, Epoch=5", NAD + " = 4, Epoch=600", NAD + " = 9, Epoch=300",
             NAD + " = 19, Epoch=150", NAD + " = 119, Epoch=25"]
rb_labels_loss = ["Epoch=500, 1000, 1500", NAD + " = 2, Epoch=1000", NAD + " = 5, Epoch=300",
                  NAD + " = 29, Epoch=100", NAD + " = 599, Epoch=5"]
rb_labels = ["Epoch=500, 1000, 1500", NAD + " = 2, Epoch=1000", NAD + " = 5, Epoch=500",
             NAD + " = 29, Epoch=100", NAD + " = 599, Epoch=5"]

MC_COLORS = ["#0000ff", "#ffa500", "#2f4f4f", "#db7093", "#808000"]
RB_COLORS = ["#008000", "#ffa500", "#800080", "#db7093", "#4169e1"]

# ======================= LAYOUT GEOMETRY (window pixels) =======================
X_RANGE = [-150, 3150]
PANELS = {
    1: dict(x=(40.7, 278.0), y=(15.7, 182.0), yr=(-7.08, -2.76), dec=(-7, -3)),
    2: dict(x=(360.0, 598.0), y=(15.7, 182.0), yr=(-3.163, 0.224), dec=(-3, 0)),
    3: dict(x=(680.7, 916.7), y=(15.7, 182.0), yr=(-6.35, -0.17), dec=(-6, -1)),
    4: dict(x=(40.7, 275.0), y=(279.0, 445.0), yr=(-9.06, -2.84), dec=(-9, -3)),
    5: dict(x=(357.3, 594.0), y=(279.0, 445.0), yr=(-2.9, 0.035), dec=(-2, 0)),
    6: dict(x=(677.7, 914.0), y=(279.0, 445.0), yr=(-4.73, -0.33), dec=(-4, -1)),
}
INSET_A = dict(x=(76.7, 100.0), y=(66.7, 150.0))
INSET_B = dict(x=(123.3, 242.3), y=(99.3, 156.7))

FONT = "DejaVu Sans"
GRID_MAJOR = "#d2d2d2"
GRID_MINOR = "#e9e9e9"


def pxx(v):
    return (v - OFF) / FW


def pxy(v):
    return 1 - (v - OFF) / FH


def xd(a, b):
    return [pxx(a), pxx(b)]


def yd(top, bottom):
    return [pxy(bottom), pxy(top)]


def sup(e):
    return "10<sup>" + ("−" + str(-e) if e < 0 else str(e)) + "</sup>"


fig = go.Figure()
layout = dict(width=FW, height=FH, margin=dict(l=0, r=0, t=0, b=0, pad=0, autoexpand=False),
              paper_bgcolor="white", plot_bgcolor="white", showlegend=False, template="none",
              font=dict(family=FONT, color="#222"))
shapes = []
annotations = []

for i, p in PANELS.items():
    xa = "xaxis" if i == 1 else f"xaxis{i}"
    ya = "yaxis" if i == 1 else f"yaxis{i}"
    xr = "x" if i == 1 else f"x{i}"
    yr = "y" if i == 1 else f"y{i}"
    lo, hi = p["yr"]
    d0, d1 = p["dec"]
    major = [10.0 ** e for e in range(d0, d1 + 1)]
    minor = []
    for e in range(math.floor(lo), math.ceil(hi) + 1):
        for k in range(2, 10):
            v = k * 10.0 ** e
            if lo <= math.log10(v) <= hi:
                minor.append(v)
    tsize = 8.8 if i <= 3 else 8.2
    layout[xa] = dict(domain=xd(*p["x"]), range=X_RANGE, anchor=yr, tickmode="array", tickvals=EPOCH_TICKS,
                      ticktext=[str(v) for v in EPOCH_TICKS], showline=True, mirror=True, linecolor="black",
                      linewidth=1, ticks="outside", ticklen=2.5, tickwidth=0.8, tickcolor="black",
                      tickfont=dict(size=tsize, color="#222"), showgrid=True, gridcolor=GRID_MAJOR,
                      griddash="3px,2px", gridwidth=0.7, zeroline=False, automargin=False)
    layout[ya] = dict(domain=yd(*p["y"]), type="log", range=[lo, hi], anchor=xr, tickmode="array",
                      tickvals=major, ticktext=[sup(e) for e in range(d0, d1 + 1)], showline=True, mirror=True,
                      linecolor="black", linewidth=1, ticks="outside", ticklen=3, tickwidth=0.8, tickcolor="black",
                      tickfont=dict(size=tsize, color="#222"), showgrid=True, gridcolor=GRID_MAJOR,
                      griddash="3px,2px", gridwidth=0.7, zeroline=False, automargin=False,
                      minor=dict(tickmode="array", tickvals=minor, ticks="outside", ticklen=1.5, tickcolor="black",
                                 showgrid=True, gridcolor=GRID_MINOR, griddash="2px,2px", gridwidth=0.6))

# insets
for key, ins, xrng, yrng, xt, yt, ytt in [
        (7, INSET_A, inset_a_epochs, inset_a_loss, inset_a_epochs, inset_a_ticks, inset_a_ticktext),
        (8, INSET_B, inset_b_epochs, inset_b_loss, inset_b_xticks, inset_b_ticks, inset_b_ticktext)]:
    common = dict(showline=True, mirror=True, linecolor="red", linewidth=1.2, ticks="outside", ticklen=2,
                  tickwidth=0.6, tickcolor="black", tickfont=dict(size=5.5, color="#222"), showgrid=False,
                  zeroline=False, tickmode="array", automargin=False)
    layout[f"xaxis{key}"] = dict(domain=xd(*ins["x"]), range=xrng, anchor=f"y{key}", tickvals=xt,
                                 ticktext=[str(v) for v in xt], **common)
    layout[f"yaxis{key}"] = dict(domain=yd(*ins["y"]), range=yrng, anchor=f"x{key}", tickvals=yt,
                                 ticktext=ytt, **common)


def add_line(x, y, color, ax, width=1.0, opacity=1.0):
    xr = "x" if ax == 1 else f"x{ax}"
    yr = "y" if ax == 1 else f"y{ax}"
    fig.add_trace(go.Scatter(x=x, y=y, mode="lines", line=dict(color=color, width=width), opacity=opacity,
                             xaxis=xr, yaxis=yr, hoverinfo="skip", showlegend=False))


# ---- panel 1 main
mc_loss_series = [mc_loss_blue, mc_loss_orange, mc_loss_slate, mc_loss_pink, mc_loss_olive]
for s, c in zip(mc_loss_series, MC_COLORS):
    add_line(mc_loss_epoch, s, c, 1, 1.2, 0.9)
# zoom boxes on main panel
add_line([inset_a_epochs[0], inset_a_epochs[1], inset_a_epochs[1], inset_a_epochs[0], inset_a_epochs[0]],
         [inset_a_loss[0], inset_a_loss[0], inset_a_loss[1], inset_a_loss[1], inset_a_loss[0]], "red", 1, 0.9, 0.8)
add_line([inset_b_epochs[0], inset_b_epochs[1], inset_b_epochs[1], inset_b_epochs[0], inset_b_epochs[0]],
         [inset_b_loss[0], inset_b_loss[0], inset_b_loss[1], inset_b_loss[1], inset_b_loss[0]], "red", 1, 0.9, 0.8)

# ---- insets (white background first, then the series)
for key, xrng, yrng in [(7, inset_a_epochs, inset_a_loss), (8, inset_b_epochs, inset_b_loss)]:
    fig.add_trace(go.Scatter(x=[xrng[0], xrng[1], xrng[1], xrng[0], xrng[0]],
                             y=[yrng[0], yrng[0], yrng[1], yrng[1], yrng[0]], mode="lines", fill="toself",
                             fillcolor="white", line=dict(width=0, color="white"), xaxis=f"x{key}",
                             yaxis=f"y{key}", hoverinfo="skip", showlegend=False))
    for s, c in zip(mc_loss_series, MC_COLORS):
        add_line(mc_loss_epoch, s, c, key, 1.3 if key == 8 else 1.0, 0.9)

# ---- panel 2, 3
for (ex, s), c in zip([(mc_l2_blue_epoch, mc_l2_blue), (mc_l2_orange_epoch, mc_l2_orange),
                       (mc_l2_slate_epoch, mc_l2_slate), (mc_l2_pink_epoch, mc_l2_pink),
                       (mc_l2_olive_epoch, mc_l2_olive)], MC_COLORS):
    add_line(ex, s, c, 2, 1.0, 0.85)
for (ex, s), c in zip([(mc_kl_blue_epoch, mc_kl_blue), (mc_kl_orange_epoch, mc_kl_orange),
                       (mc_kl_slate_epoch, mc_kl_slate), (mc_kl_pink_epoch, mc_kl_pink),
                       (mc_kl_olive_epoch, mc_kl_olive)], MC_COLORS):
    add_line(ex, s, c, 3, 1.0, 0.85)

# ---- panels 4, 5, 6
rb_sets = {
    4: [(rb_loss_green_epoch, rb_loss_green), (rb_loss_orange_epoch, rb_loss_orange),
        (rb_loss_purple_epoch, rb_loss_purple), (rb_pink_epoch, rb_loss_pink), (rb_dense_epoch, rb_loss_blue)],
    5: [(rb_l2_green_epoch, rb_l2_green), (rb_l2_orange_epoch, rb_l2_orange),
        (rb_l2_purple_epoch, rb_l2_purple), (rb_pink_epoch, rb_l2_pink), (rb_dense_epoch, rb_l2_blue)],
    6: [(rb_kl_green_epoch, rb_kl_green), (rb_kl_orange_epoch, rb_kl_orange),
        (rb_kl_purple_epoch, rb_kl_purple), (rb_pink_epoch, rb_kl_pink), (rb_dense_epoch, rb_kl_blue)],
}
RB_OPAC = [0.9, 0.85, 0.8, 0.6, 0.95]
for ax, sets in rb_sets.items():
    for (ex, s), c, op in zip(sets, RB_COLORS, RB_OPAC):
        add_line(ex, s, c, ax, 1.0, op)


# ---- connector lines between zoom boxes and insets (paper coords)
def p1_to_px(ep, val):
    p = PANELS[1]
    fx = (ep - X_RANGE[0]) / (X_RANGE[1] - X_RANGE[0])
    lo, hi = p["yr"]
    fy = (math.log10(val) - lo) / (hi - lo)
    return p["x"][0] + fx * (p["x"][1] - p["x"][0]), p["y"][1] - fy * (p["y"][1] - p["y"][0])


conn = [
    (p1_to_px(inset_a_epochs[0], inset_a_loss[1]), (INSET_A["x"][0], INSET_A["y"][0])),
    (p1_to_px(inset_a_epochs[1], inset_a_loss[0]), (INSET_A["x"][1], INSET_A["y"][1])),
    (p1_to_px(inset_b_epochs[0], inset_b_loss[0]), (INSET_B["x"][0], INSET_B["y"][1])),
    (p1_to_px(inset_b_epochs[1], inset_b_loss[1]), (INSET_B["x"][1], INSET_B["y"][0])),
]
for (a, b) in conn:
    shapes.append(dict(type="line", xref="paper", yref="paper", x0=pxx(a[0]), y0=pxy(a[1]), x1=pxx(b[0]),
                       y1=pxy(b[1]), line=dict(color="rgba(255,0,0,0.6)", width=0.8), layer="above"))

# "1e-7" offset labels on insets
for ins in (INSET_A, INSET_B):
    annotations.append(dict(x=pxx(ins["x"][0] - 1), y=pxy(ins["y"][0] - 0.5), xref="paper", yref="paper",
                            text="1e−7", showarrow=False, xanchor="left", yanchor="bottom",
                            font=dict(size=5.5, color="#222")))

# ---- titles and axis labels
ylabels = {1: "training loss", 2: "relative <i>L</i><sub>2</sub> error", 3: "relative KL divergence",
           4: "training loss", 5: "relative <i>L</i><sub>2</sub> error", 6: "relative KL divergence"}
ylabel_x = {1: 15.0, 2: 331.7, 3: 655.0, 4: 15.0, 5: 332.3, 6: 653.3}
for i, p in PANELS.items():
    cx = (p["x"][0] + p["x"][1]) / 2
    cy = (p["y"][0] + p["y"][1]) / 2
    top = p["y"][0]
    annotations.append(dict(x=pxx(cx), y=pxy(top - 4.5), xref="paper", yref="paper",
                            text=MC_TITLE if i <= 3 else RB_TITLE, showarrow=False, yanchor="middle",
                            font=dict(size=7.5, color="#222")))
    annotations.append(dict(x=pxx(cx), y=pxy(p["y"][1] + (17.5 if i <= 3 else 16.5)), xref="paper",
                            yref="paper", text="Epoch", showarrow=False, yanchor="middle",
                            font=dict(size=8, color="#222")))
    annotations.append(dict(x=pxx(ylabel_x[i]), y=pxy(cy), xref="paper", yref="paper", text=ylabels[i],
                            showarrow=False, textangle=-90, xanchor="center", yanchor="middle",
                            font=dict(size=8, color="#222")))

# ---- legends (drawn by hand to match the compact matplotlib boxes)
LEGENDS = {
    1: dict(box=(185.7, 19, 275.7, 65), rows=[24.7, 33.3, 41.9, 50.5, 59.1], line=(187.7, 199.3), tx=202.0,
            size=5.3, labels=mc_labels, colors=MC_COLORS),
    2: dict(box=(498.3, 19, 596.7, 70), rows=[25.0, 34.7, 44.4, 54.1, 63.8], line=(500.0, 513.3), tx=516.0,
            size=5.8, labels=mc_labels, colors=MC_COLORS),
    3: dict(box=(825.0, 19.3, 915.0, 70), rows=[25.0, 34.8, 44.8, 54.8, 64.8], line=(826.7, 840.0), tx=842.3,
            size=5.2, labels=mc_labels, colors=MC_COLORS),
    4: dict(box=(192.3, 281.7, 274.0, 321.7), rows=[286.7, 294.6, 302.5, 310.6, 318.6], line=(193.5, 205.0),
            tx=208.0, size=4.9, labels=rb_labels_loss, colors=RB_COLORS),
    5: dict(box=(360.0, 395.0, 445.0, 443.3), rows=[400.5, 409.3, 418.1, 426.9, 436.3], line=(361.7, 374.0),
            tx=376.7, size=5.0, labels=rb_labels, colors=RB_COLORS),
    6: dict(box=(680.0, 395.7, 763.3, 444.3), rows=[401.0, 409.7, 418.4, 427.1, 436.5], line=(681.7, 693.3),
            tx=697.0, size=5.0, labels=rb_labels, colors=RB_COLORS),
}
for i, lg in LEGENDS.items():
    x0, y0, x1, y1 = lg["box"]
    shapes.append(dict(type="rect", xref="paper", yref="paper", x0=pxx(x0), y0=pxy(y1), x1=pxx(x1), y1=pxy(y0),
                       fillcolor="rgba(255,255,255,0.85)", line=dict(color="#d0d0d0", width=0.7), layer="above"))
    for ry, lab, col in zip(lg["rows"], lg["labels"], lg["colors"]):
        shapes.append(dict(type="line", xref="paper", yref="paper", x0=pxx(lg["line"][0]), y0=pxy(ry),
                           x1=pxx(lg["line"][1]), y1=pxy(ry), line=dict(color=col, width=1.3), layer="above"))
        annotations.append(dict(x=pxx(lg["tx"]), y=pxy(ry), xref="paper", yref="paper", text=lab,
                                showarrow=False, xanchor="left", yanchor="middle",
                                font=dict(size=lg["size"], color="#222")))

# ---- captions
annotations.append(dict(x=pxx(461), y=pxy(212.5), xref="paper", yref="paper",
                        text="(a) Different adaptive frequencies for MCNF.", showarrow=False,
                        font=dict(family="DejaVu Serif", size=15.5, color="black")))
annotations.append(dict(x=pxx(461), y=pxy(484.5), xref="paper", yref="paper",
                        text="(b) Different adaptive frequencies for GRBFNF.", showarrow=False,
                        font=dict(family="DejaVu Serif", size=15.5, color="black")))

layout["shapes"] = shapes
layout["annotations"] = annotations
fig.update_layout(**layout)
fig.write_html("out.html")
